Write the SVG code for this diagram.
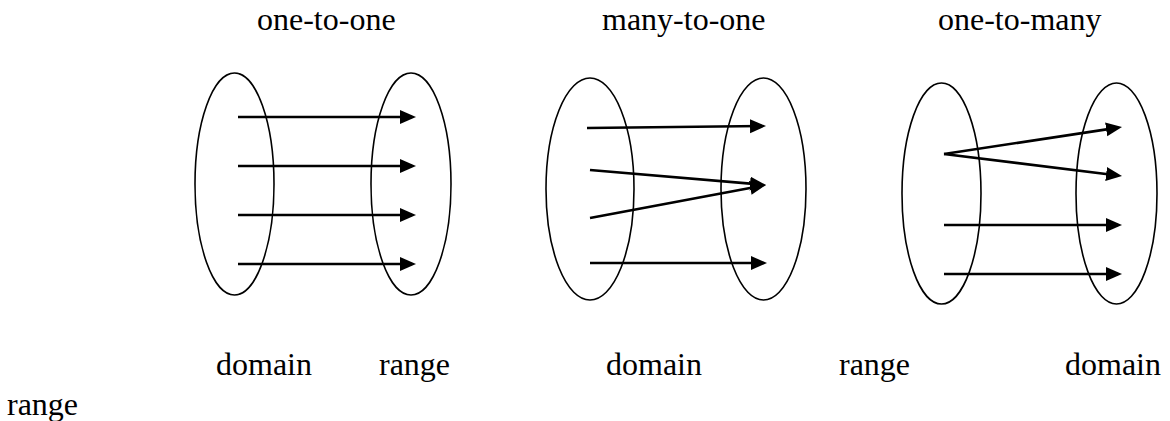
<svg xmlns="http://www.w3.org/2000/svg" width="1170" height="421" viewBox="0 0 1170 421">
<style>
.set{fill:none;stroke:#000;stroke-width:1.6}
.arr{stroke:#000;stroke-width:2.6;fill:none;marker-end:url(#ah)}
text{font-family:"Liberation Serif","Times New Roman",serif;font-size:32px;fill:#000}
</style>
<defs>
<marker id="ah" markerUnits="userSpaceOnUse" markerWidth="17" markerHeight="15" viewBox="0 0 17 15" refX="12" refY="7" orient="auto">
<path d="M0,0 L16,7 L0,14 z" fill="#000"/>
</marker>
</defs>
<rect width="1170" height="421" fill="#fff"/>
<g id="titles">
<text x="257" y="30">one-to-one</text>
<text x="602" y="30">many-to-one</text>
<text x="938" y="30">one-to-many</text>
</g>
<g id="set-1-domain"><ellipse class="set" cx="234.5" cy="184" rx="39.5" ry="111"/></g>
<g id="set-1-range"><ellipse class="set" cx="411" cy="184" rx="40" ry="111"/></g>
<g id="set-2-domain"><ellipse class="set" cx="590" cy="189" rx="44" ry="111"/></g>
<g id="set-2-range"><ellipse class="set" cx="763.5" cy="189" rx="42.5" ry="111"/></g>
<g id="set-3-domain"><ellipse class="set" cx="941.5" cy="193.5" rx="39.5" ry="110.5"/></g>
<g id="set-3-range"><ellipse class="set" cx="1116.5" cy="193.5" rx="40.5" ry="110.5"/></g>
<g id="connectors">
<line class="arr" x1="238" y1="117" x2="412" y2="117"/>
<line class="arr" x1="238" y1="166" x2="412" y2="166"/>
<line class="arr" x1="238" y1="215" x2="412" y2="215"/>
<line class="arr" x1="238" y1="264" x2="412" y2="264"/>
<line class="arr" x1="587" y1="128" x2="762" y2="126.04"/>
<line class="arr" x1="590" y1="170" x2="762" y2="184.66"/>
<line class="arr" x1="590" y1="218" x2="762.07" y2="185.74"/>
<line class="arr" x1="590" y1="263" x2="763" y2="263"/>
<line class="arr" x1="944" y1="154" x2="1118.05" y2="127.6"/>
<line class="arr" x1="944" y1="154" x2="1118.03" y2="175.51"/>
<line class="arr" x1="944" y1="225" x2="1118" y2="225"/>
<line class="arr" x1="944" y1="274" x2="1118" y2="274"/>
</g>
<g id="labels">
<text x="216" y="375">domain</text>
<text x="379" y="375">range</text>
<text x="606" y="375">domain</text>
<text x="839" y="375">range</text>
<text x="1065" y="375">domain</text>
<text x="7" y="415">range</text>
</g>
</svg>
